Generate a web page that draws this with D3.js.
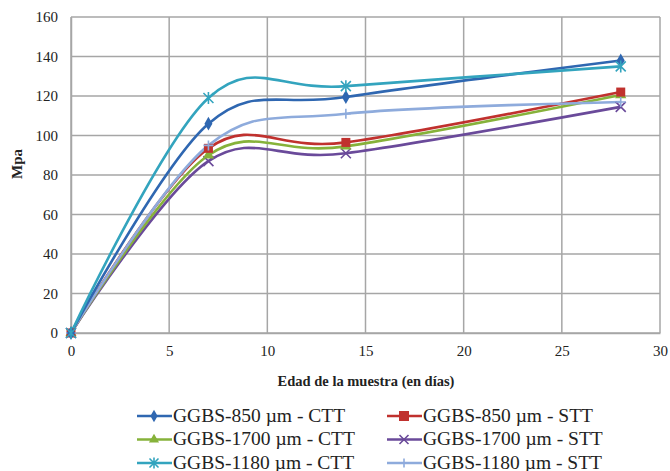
<!DOCTYPE html>
<html><head><meta charset="utf-8">
<script src="https://cdn.jsdelivr.net/npm/d3@7"></script>
<style>body{margin:0;background:#fff}</style>
</head><body>
<svg id="c" width="670" height="471" font-family="Liberation Serif, Times New Roman, serif"></svg>
<script>
const days = [0, 7, 14, 28];
const seriesNames = ["GGBS-850 µm - CTT","GGBS-850 µm - STT","GGBS-1700 µm - CTT","GGBS-1700 µm - STT","GGBS-1180 µm - CTT","GGBS-1180 µm - STT"];
const ggbs850CTT = [0, 106, 119.5, 138];
const ggbs850STT = [0, 93.5, 96.5, 122];
const ggbs1700CTT = [0, 90, 94.5, 120.5];
const ggbs1700STT = [0, 87, 91, 114.5];
const ggbs1180CTT = [0, 119, 125, 135];
const ggbs1180STT = [0, 95, 111, 117];
const yTicks = [0,20,40,60,80,100,120,140,160];
const xTicks = [0,5,10,15,20,25,30];

const colors = ["#2F67B1","#C0312E","#86B23A","#6A4A9A","#33A4BE","#8EABDC"];
const markers = ["diamond","square","triangle","x","asterisk","plus"];
const values = [ggbs850CTT,ggbs850STT,ggbs1700CTT,ggbs1700STT,ggbs1180CTT,ggbs1180STT];
const data = seriesNames.map((n,i)=>({name:n,color:colors[i],marker:markers[i],vals:values[i]}));

const svg = d3.select("#c");
const L=71,R=660,T=17,B=333;
const x = d3.scaleLinear().domain([0,30]).range([L,R]);
const y = d3.scaleLinear().domain([0,160]).range([B,T]);

// grid
const g = svg.append("g");
g.selectAll(".hy").data(yTicks).join("line")
  .attr("x1",L).attr("x2",R).attr("y1",d=>y(d)).attr("y2",d=>y(d))
  .attr("stroke","#A6A6A6").attr("stroke-width",1.5);
g.selectAll(".vx").data(xTicks).join("line")
  .attr("x1",d=>x(d)).attr("x2",d=>x(d)).attr("y1",T).attr("y2",B)
  .attr("stroke","#A6A6A6").attr("stroke-width",1.5);

// axes
const ya = svg.append("g").attr("transform",`translate(${L},0)`)
  .call(d3.axisLeft(y).tickValues(yTicks).tickSize(0).tickPadding(13));
const xa = svg.append("g").attr("transform",`translate(0,${B})`)
  .call(d3.axisBottom(x).tickValues(xTicks).tickSize(0).tickPadding(12));
[ya,xa].forEach(a=>{a.select(".domain").attr("stroke","#A6A6A6").attr("stroke-width",1.5);
  a.attr("font-family",null).attr("font-size",15);
  a.selectAll("text").attr("fill","#222");});

svg.append("text").attr("x",366).attr("y",386).attr("text-anchor","middle")
  .attr("font-size",14.5).attr("font-weight","bold").attr("fill","#222")
  .text("Edad de la muestra  (en días)");
svg.append("text").attr("transform","translate(22,164) rotate(-90)").attr("text-anchor","middle")
  .attr("font-size",15).attr("font-weight","bold").attr("fill","#222")
  .text("Mpa");

const line = d3.line().x((d,i)=>x(days[i])).y(d=>y(d)).curve(d3.curveCardinal.tension(0));

function drawMarker(sel, type, color, cx, cy, s){
  const gg = sel.append("g").attr("transform",`translate(${cx},${cy})`);
  if(type==="diamond") gg.append("path").attr("d",d3.symbol(d3.symbolDiamond,s*s*0.55)()).attr("fill",color);
  if(type==="square") gg.append("rect").attr("x",-s/2).attr("y",-s/2).attr("width",s).attr("height",s).attr("fill",color);
  if(type==="triangle") gg.append("path").attr("d",d3.symbol(d3.symbolTriangle,s*s*0.55)()).attr("fill",color);
  const st=(p)=>gg.append("path").attr("d",p).attr("stroke",color).attr("stroke-width",1.6).attr("fill","none");
  const h=s/2;
  if(type==="x") st(`M${-h},${-h}L${h},${h}M${-h},${h}L${h},${-h}`);
  if(type==="asterisk") st(`M${-h},${-h}L${h},${h}M${-h},${h}L${h},${-h}M0,${-h-1}L0,${h+1}`);
  if(type==="plus") st(`M${-h},0L${h},0M0,${-h}L0,${h}`);
}

const order=[3,2,1,5,0,4];
order.forEach(i=>{
  const s=data[i];
  svg.append("path").datum(s.vals).attr("d",line).attr("fill","none")
    .attr("stroke",s.color).attr("stroke-width",2.6);
});
order.forEach(i=>{
  const s=data[i];
  s.vals.forEach((v,j)=>drawMarker(svg,s.marker,s.color,x(days[j]),y(v),s.marker==="square"?9:10));
});

// legend
const lg = svg.append("g");
data.forEach((s,i)=>{
  const col=i%2, row=Math.floor(i/2);
  const lx = col===0?137:387, ly = 416+row*23.5;
  lg.append("line").attr("x1",lx).attr("x2",lx+35).attr("y1",ly).attr("y2",ly)
    .attr("stroke",s.color).attr("stroke-width",2.6);
  drawMarker(lg,s.marker,s.color,lx+17,ly,s.marker==="square"?10:9);
  lg.append("text").attr("x",lx+36).attr("y",ly+5.5)
    .attr("font-size",19.5).attr("fill","#222").text(s.name);
});
</script>
</body></html>
